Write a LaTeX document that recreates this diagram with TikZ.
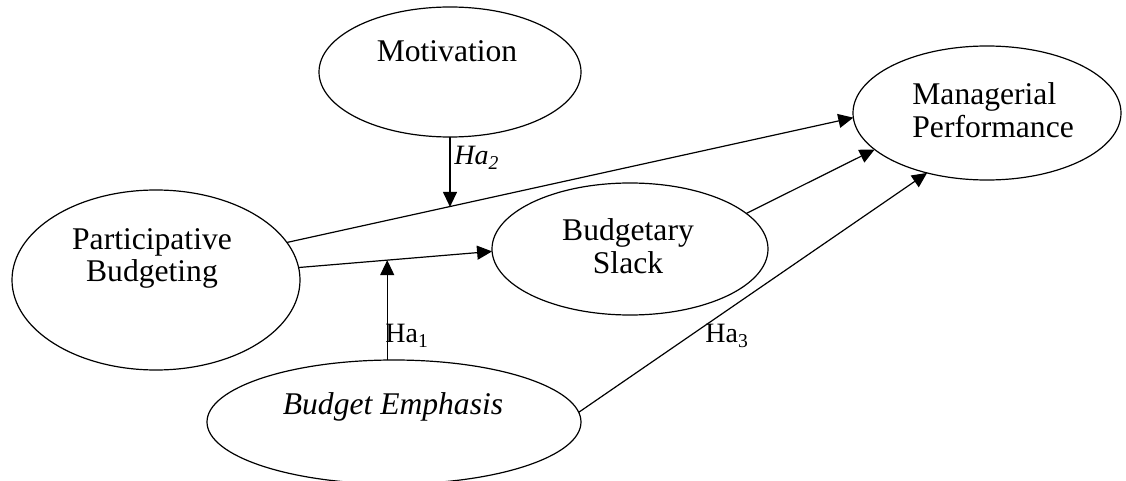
\documentclass[tikz,border=0pt]{standalone}
\usepackage{fontspec}
\setmainfont{Liberation Serif}
\usetikzlibrary{arrows.meta,shapes.geometric,positioning}
\tikzstyle{arrow} = [line width=0.6pt,-{Triangle[length=7.5pt,width=7pt]}]
\tikzstyle{construct} = [ellipse, draw, line width=0.6pt, inner sep=0pt, outer sep=0pt]
\tikzstyle{caption} = [inner sep=0pt, anchor=base, align=center, font=\fontsize{15.8}{16.5}\selectfont]
\tikzstyle{hyp} = [inner sep=0pt, anchor=base west, font=\fontsize{14}{16}\selectfont]

\begin{document}
\begin{tikzpicture}[x=0.5pt, y=-0.5pt]
\useasboundingbox (0,0) rectangle (1126,481);
% Constructs
\node (mot) [construct, minimum width=131pt, minimum height=65pt] at (450,72) {};
\node (pb) [construct, minimum width=144pt, minimum height=90pt] at (156,280) {};
\node (bs) [construct, minimum width=138pt, minimum height=66pt] at (630,249) {};
\node (mp) [construct, minimum width=134pt, minimum height=67pt] at (987,113) {};
\node (be) [construct, minimum width=187pt, minimum height=62pt] at (394,422) {};

\node (mot-t) [caption] at (447,62) {Motivation};
\node (pb-t) [caption] at (152,282) {Participative\\Budgeting};
\node (bs-t) [caption] at (628,273) {Budgetary\\Slack};
\node (mp-t) [caption, anchor=base west, align=left] at (912,138) {Managerial\\Performance};
\node (be-t) [caption] at (393,415) {\textit{Budget Emphasis}};

% Paths
\draw[arrow] (pb.16) -- (mp.182) coordinate[pos=0.285] (h2);
\draw[arrow] (pb.5) -- (bs.181) coordinate[pos=0.458] (h1);
\draw[arrow] (bs.17) -- (mp.198);
\draw[arrow] (be.3) -- (mp.225);
\draw[arrow] (mot.south) -- (mot.south |- h2);
\draw[arrow] (be.north -| h1) -- (h1);

\node (ha2) [hyp] at (454,165) {\textit{Ha\textsubscript{2}}};
\node (ha1) [hyp] at (385,343) {Ha\textsubscript{1}};
\node (ha3) [hyp] at (705,343) {Ha\textsubscript{3}};
\end{tikzpicture}
\end{document}
